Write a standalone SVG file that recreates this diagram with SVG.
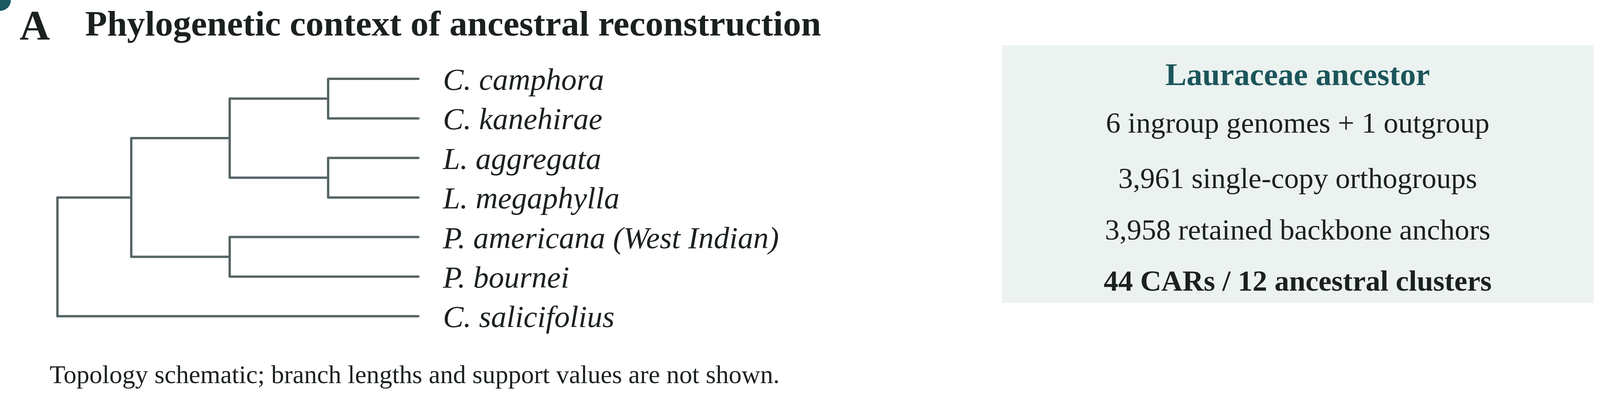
<svg xmlns="http://www.w3.org/2000/svg" width="4204" height="1015" viewBox="0 0 4204 1015">
<style>
  text { font-family: "Liberation Serif", "Times New Roman", serif; fill: #1b2021; }
  .title { font-weight: bold; font-size: 92px; }
  .panel { font-weight: bold; font-size: 108px; }
  .taxon { font-style: italic; font-size: 79px; }
  .note { font-size: 66px; }
  .boxhead { font-weight: bold; font-size: 81px; fill: #1c555b; text-anchor: middle; }
  .boxline { font-size: 75px; text-anchor: middle; }
  .boxbold { font-size: 75px; font-weight: bold; text-anchor: middle; }
  .branch { fill: none; stroke: #566566; stroke-width: 6; stroke-linecap: round; stroke-linejoin: round; }
</style>
<rect width="4204" height="1015" fill="#ffffff"/>
<circle id="corner-dot" cx="0" cy="0" r="28" fill="#1c5a60"/>
<g id="heading">
  <text class="panel" x="50" y="101.5">A</text>
  <text class="title" x="218" y="91">Phylogenetic context of ancestral reconstruction</text>
</g>
<g id="connectors">
  <path class="branch" d="M1071,810.4 H147 V506.2 H336"/>
  <path class="branch" d="M588,354.1 H336 V658.3 H588"/>
  <path class="branch" d="M840,252.7 H588 V455.5 H840"/>
  <path class="branch" d="M1071,202 H840 V303.4 H1071"/>
  <path class="branch" d="M1071,404.8 H840 V506.2 H1071"/>
  <path class="branch" d="M1071,607.6 H588 V709 H1071"/>
</g>
<g id="taxon-c-camphora"><text class="taxon" x="1134" y="230">C. camphora</text></g>
<g id="taxon-c-kanehirae"><text class="taxon" x="1134" y="331.4">C. kanehirae</text></g>
<g id="taxon-l-aggregata"><text class="taxon" x="1134" y="432.8">L. aggregata</text></g>
<g id="taxon-l-megaphylla"><text class="taxon" x="1134" y="534.2">L. megaphylla</text></g>
<g id="taxon-p-americana"><text class="taxon" x="1134" y="635.6">P. americana (West Indian)</text></g>
<g id="taxon-p-bournei"><text class="taxon" x="1134" y="737">P. bournei</text></g>
<g id="taxon-c-salicifolius"><text class="taxon" x="1134" y="838.4">C. salicifolius</text></g>
<g id="footnote"><text class="note" x="127" y="981.5">Topology schematic; branch lengths and support values are not shown.</text></g>
<g id="ancestor-box">
  <rect x="2565" y="116" width="1514" height="660" fill="#ebf2f0"/>
  <text class="boxhead" x="3322" y="218">Lauraceae ancestor</text>
  <text class="boxline" x="3322" y="340">6 ingroup genomes + 1 outgroup</text>
  <text class="boxline" x="3322" y="482">3,961 single-copy orthogroups</text>
  <text class="boxline" x="3322" y="614">3,958 retained backbone anchors</text>
  <text class="boxbold" x="3322" y="745">44 CARs / 12 ancestral clusters</text>
</g>
</svg>
